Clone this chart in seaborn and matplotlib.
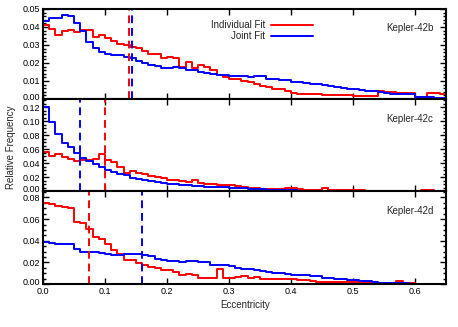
import numpy as np
import pandas as pd
import matplotlib
matplotlib.use("Agg")
import matplotlib.pyplot as plt
from matplotlib.ticker import MultipleLocator, FormatStrFormatter
from matplotlib.transforms import ScaledTranslation
import seaborn as sns

sns.set_style("ticks")
plt.rcParams['font.family'] = ['Liberation Sans', 'DejaVu Sans']

# bins of width 0.01 from 0 to 0.65
edges = np.round(np.arange(0, 0.6501, 0.01), 2)

# Kepler-42b
b_ind = [0.0410, 0.0390, 0.0356, 0.0376, 0.0384, 0.0370, 0.0382, 0.0382, 0.0342, 0.0354,
         0.0338, 0.0323, 0.0306, 0.0300, 0.0291, 0.0282, 0.0268, 0.0250, 0.0250, 0.0228,
         0.0235, 0.0230, 0.0178, 0.0207, 0.0172, 0.0189, 0.0180, 0.0162, 0.0135, 0.0120,
         0.0112, 0.0110, 0.0100, 0.0094, 0.0086, 0.0075, 0.0064, 0.0057, 0.0055, 0.0045,
         0.0035, 0.0030, 0.0028, 0.0026, 0.0026, 0.0024, 0.0022, 0.0022, 0.0020, 0.0020,
         0.0018, 0.0018, 0.0016, 0.0015, 0.0042, 0.0040, 0.0038, 0.0036, 0.0034, 0.0032,
         0.0010, 0.0008, 0.0035, 0.0036, 0.0028]
b_joint = [0.0433, 0.0452, 0.0448, 0.0468, 0.0462, 0.0425, 0.0378, 0.0318, 0.0285, 0.0262,
           0.0248, 0.0245, 0.0244, 0.0235, 0.0228, 0.0212, 0.0200, 0.0190, 0.0182, 0.0172,
           0.0171, 0.0178, 0.0172, 0.0162, 0.0160, 0.0150, 0.0143, 0.0140, 0.0134, 0.0131,
           0.0130, 0.0129, 0.0128, 0.0125, 0.0130, 0.0128, 0.0112, 0.0110, 0.0106, 0.0104,
           0.0095, 0.0093, 0.0088, 0.0083, 0.0082, 0.0080, 0.0070, 0.0065, 0.0060, 0.0058,
           0.0056, 0.0048, 0.0045, 0.0042, 0.0040, 0.0036, 0.0030, 0.0028, 0.0027, 0.0026,
           0.0012, 0.0011, 0.0010, 0.0005, 0.0004]

# Kepler-42c
c_ind = [0.0556, 0.0509, 0.0527, 0.0485, 0.0452, 0.0424, 0.0438, 0.0438, 0.0460, 0.0532,
         0.0438, 0.0414, 0.0343, 0.0264, 0.0280, 0.0264, 0.0245, 0.0210, 0.0198, 0.0180,
         0.0165, 0.0160, 0.0150, 0.0125, 0.0155, 0.0110, 0.0100, 0.0094, 0.0090, 0.0085,
         0.0080, 0.0075, 0.0060, 0.0050, 0.0045, 0.0035, 0.0030, 0.0028, 0.0025, 0.0045,
         0.0040, 0.0025, 0.0020, 0.0018, 0.0016, 0.0040, 0.0020, 0.0015, 0.0012, 0.0010,
         0.0010, 0.0008, 0.0006, 0.0005, 0.0004, 0.0003, 0.0003, 0.0002, 0.0002, 0.0002,
         0.0002, 0.0010, 0.0012, 0.0003, 0.0002]
c_joint = [0.1205, 0.0990, 0.0815, 0.0690, 0.0626, 0.0550, 0.0475, 0.0426, 0.0386, 0.0343,
           0.0300, 0.0273, 0.0245, 0.0226, 0.0190, 0.0170, 0.0156, 0.0141, 0.0122, 0.0108,
           0.0100, 0.0094, 0.0090, 0.0080, 0.0075, 0.0068, 0.0061, 0.0060, 0.0057, 0.0055,
           0.0050, 0.0042, 0.0038, 0.0035, 0.0030, 0.0025, 0.0020, 0.0019, 0.0017, 0.0012,
           0.0008, 0.0006, 0.0005, 0.0005, 0.0004, 0.0004, 0.0003, 0.0003, 0.0002, 0.0002,
           0.0002, 0.0001, 0.0001, 0.0001, 0.0001, 0.0001, 0.0001, 0.0001, 0.0001, 0.0001,
           0.0001, 0.0001, 0.0001, 0.0001, 0.0001]

# Kepler-42d
d_ind = [0.0751, 0.0739, 0.0722, 0.0714, 0.0699, 0.0575, 0.0560, 0.0504, 0.0436, 0.0412,
         0.0374, 0.0312, 0.0282, 0.0226, 0.0220, 0.0195, 0.0173, 0.0160, 0.0145, 0.0127,
         0.0127, 0.0111, 0.0081, 0.0096, 0.0085, 0.0059, 0.0059, 0.0059, 0.0143, 0.0059,
         0.0059, 0.0062, 0.0071, 0.0055, 0.0066, 0.0043, 0.0050, 0.0043, 0.0043, 0.0043,
         0.0043, 0.0040, 0.0038, 0.0030, 0.0020, 0.0020, 0.0020, 0.0020, 0.0020, 0.0018,
         0.0018, 0.0016, 0.0015, 0.0012, 0.0012, 0.0010, 0.0012, 0.0025, 0.0008, 0.0005,
         0.0004, 0.0003, 0.0003, 0.0003, 0.0002]
d_joint = [0.0389, 0.0380, 0.0374, 0.0374, 0.0374, 0.0328, 0.0297, 0.0297, 0.0297, 0.0288,
           0.0275, 0.0266, 0.0266, 0.0275, 0.0282, 0.0282, 0.0266, 0.0257, 0.0235, 0.0220,
           0.0214, 0.0214, 0.0205, 0.0214, 0.0214, 0.0205, 0.0205, 0.0180, 0.0173, 0.0173,
           0.0164, 0.0150, 0.0143, 0.0140, 0.0125, 0.0120, 0.0115, 0.0105, 0.0100, 0.0090,
           0.0085, 0.0081, 0.0080, 0.0078, 0.0070, 0.0060, 0.0058, 0.0050, 0.0042, 0.0040,
           0.0035, 0.0030, 0.0028, 0.0020, 0.0013, 0.0012, 0.0011, 0.0010, 0.0006, 0.0004,
           0.0003, 0.0003, 0.0003, 0.0002, 0.0002]

planets = ["Kepler-42b", "Kepler-42c", "Kepler-42d"]
med_ind = [0.139, 0.100, 0.074]
med_joint = [0.143, 0.060, 0.159]
ind_hists = [b_ind, c_ind, d_ind]
joint_hists = [b_joint, c_joint, d_joint]
ylims = [0.05, 0.132, 0.086]
yticks = [[0.0, 0.01, 0.02, 0.03, 0.04, 0.05],
          [0.0, 0.02, 0.04, 0.06, 0.08, 0.10, 0.12],
          [0.0, 0.02, 0.04, 0.06, 0.08]]
yminor = [0.002, 0.005, 0.005]

RED = "#ff0000"
BLUE = "#0000ff"

fig = plt.figure(figsize=(4.58, 3.27), dpi=100)
L, R = 43 / 458, 446 / 458
panel_px = [(9, 99), (99, 191), (191, 284)]
centers = (edges[:-1] + edges[1:]) / 2
shift_up = ScaledTranslation(0, 2.5 / 100, fig.dpi_scale_trans)

axes = []
for i, (top, bot) in enumerate(panel_px):
    ax = fig.add_axes([L, 1 - bot / 327, R - L, (bot - top) / 327])
    axes.append(ax)
    df = pd.DataFrame({"e": centers, "ind": ind_hists[i], "joint": joint_hists[i]})
    sns.histplot(data=df, x="e", weights="ind", binwidth=0.01, binrange=(0, 0.65),
                 element="step", fill=False, color=RED, lw=1.4, ax=ax)
    sns.histplot(data=df, x="e", weights="joint", binwidth=0.01, binrange=(0, 0.65),
                 element="step", fill=False, color=BLUE, lw=1.4, ax=ax)
    ax.axvline(med_ind[i], color=RED, lw=1.4, ls=(0, (4, 2.5)))
    ax.axvline(med_joint[i], color=BLUE, lw=1.4, ls=(0, (4, 2.5)))
    ax.set_xlim(0, 0.65)
    ax.set_ylim(0, ylims[i])
    ax.set_xlabel("")
    ax.set_ylabel("")
    ax.xaxis.set_major_locator(MultipleLocator(0.1))
    ax.set_yticks(yticks[i], ["%.2f" % v for v in yticks[i]])
    ax.yaxis.set_minor_locator(MultipleLocator(yminor[i]))
    ax.tick_params(which="both", direction="in", top=True, right=True, width=1.0,
                   labelsize=6.5, pad=2, colors="black")
    ax.tick_params(which="major", length=4)
    ax.tick_params(which="minor", length=2)
    # lift the 0.00 label a little, as in the original
    lab0 = ax.get_yticklabels()[0]
    lab0.set_transform(lab0.get_transform() + shift_up)
    for s in ax.spines.values():
        s.set_linewidth(1.5)
        s.set_color("black")
    ax.text(0.63, ylims[i] * 0.785, planets[i], ha="right", va="center", fontsize=7)
    if i < 2:
        ax.set_xticklabels([])
    else:
        ax.xaxis.set_major_formatter(FormatStrFormatter("%.1f"))

# legend in top panel
ax0 = axes[0]
ax0.plot([0.368, 0.435], [0.0410, 0.0410], color=RED, lw=1.4)
ax0.plot([0.368, 0.435], [0.0348, 0.0348], color=BLUE, lw=1.4)
ax0.text(0.358, 0.0410, "Individual Fit", ha="right", va="center", fontsize=7)
ax0.text(0.358, 0.0348, "Joint Fit", ha="right", va="center", fontsize=7)

fig.text(245 / 458, 1 - 305 / 327, "Eccentricity", ha="center", va="center", fontsize=7)
fig.text(11 / 458, 1 - 147 / 327, "Relative Frequency", ha="center", va="center",
         rotation=90, fontsize=7)

fig.savefig("out.png", dpi=100)
